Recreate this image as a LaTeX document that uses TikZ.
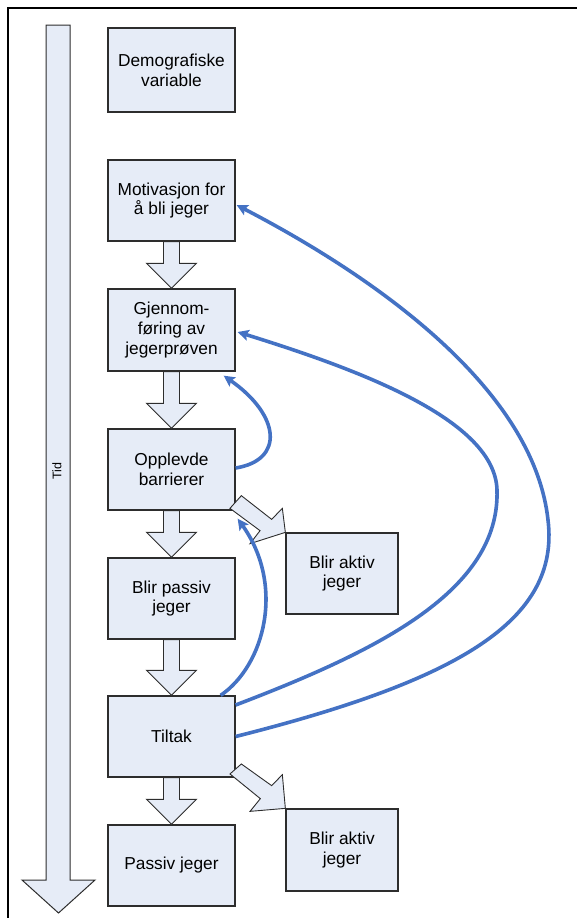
\documentclass[tikz,border=0pt]{standalone}
\usepackage{fontspec}
\setmainfont{Liberation Sans}
\usetikzlibrary{calc,arrows.meta}
\definecolor{boxfill}{RGB}{230,236,247}
\definecolor{boxline}{RGB}{45,45,45}
\definecolor{curveblue}{RGB}{68,114,196}
\newcommand\vblock[2]{%
  \draw[block] ($(#1.south)+(-8,0)$) -- ($(#2.north)+(-8,-25)$) -- ($(#2.north)+(-25,-25)$)
    -- (#2.north) -- ($(#2.north)+(25,-25)$) -- ($(#2.north)+(8,-25)$) -- ($(#1.south)+(8,0)$) -- cycle;}
\begin{document}
\begin{tikzpicture}[x=1pt,y=-1pt,
  box/.style={draw=boxline, fill=boxfill, line width=1.3pt, minimum width=127pt,
    minimum height=81pt, inner sep=0pt, align=center, font=\fontsize{17.3}{19.8}\selectfont},
  smallbox/.style={box, minimum width=112pt},
  block/.style={draw=boxline, fill=boxfill, line width=0.9pt, line join=miter},
  link/.style={draw=curveblue, line width=3.6pt, -{Stealth[length=11pt,width=11pt,inset=2pt]}}]
\useasboundingbox (0,0) rectangle (577,918);
% frame (top and left edges)
\draw[line width=2.6pt] (7.8,918) -- (7.8,7.8) -- (577,7.8);
% time arrow
\draw[block, line width=1pt] (46,25) -- (70,25) -- (70,880) -- (95,880) -- (58.5,913)
  -- (22,880) -- (46,880) -- cycle;
\node[rotate=90, font=\fontsize{12.5}{14}\selectfont] (tid) at (57,471) {Tid};
% boxes
\node[box, minimum height=84pt] (demo) at (171.5,70) {Demografiske\\variable};
\node[box] (motiv) at (171.5,200.5) {Motivasjon for\\å bli jeger};
\node[box, minimum height=82pt] (gjen) at (171.5,330) {Gjennom-\\føring av\\jegerprøven};
\node[box] (oppl) at (171.5,469.5) {Opplevde\\barrierer};
\node[box] (bpass) at (171.5,598.5) {Blir passiv\\jeger};
\node[box] (tiltak) at (171.5,736.5) {Tiltak};
\node[box] (pass) at (171.5,865.5) {Passiv jeger};
\node[smallbox] (aktivA) at (342,573.5) {Blir aktiv\\jeger};
\node[smallbox, minimum height=82pt] (aktivB) at (342,850) {Blir aktiv\\jeger};
% vertical block arrows
\vblock{motiv}{gjen}
\vblock{gjen}{oppl}
\vblock{oppl}{bpass}
\vblock{bpass}{tiltak}
\vblock{tiltak}{pass}
% diagonal block arrows
\draw[block] ($(oppl.south east)+(-5.7,-2.3)$) -- ($(oppl.south east)+(5.7,-15)$)
  -- ($(oppl.south east)+(36,8.7)$) -- ($(oppl.south east)+(46.7,-2.3)$)
  -- (aktivA.north west) -- ($(aktivA.north west)+(-35.3,11.3)$)
  -- ($(aktivA.north west)+(-25.3,-1.7)$) -- cycle;
\draw[block] ($(tiltak.south east)+(-5.7,-3.7)$) -- ($(tiltak.south east)+(5.7,-13.7)$)
  -- ($(tiltak.south east)+(36,8)$) -- ($(tiltak.south east)+(46.7,-3)$)
  -- (aktivB.north west) -- ($(aktivB.north west)+(-35.3,3)$)
  -- ($(aktivB.north west)+(-25,-9.7)$) -- cycle;
% blue feedback curves
\draw[link] (tiltak.east) .. controls (460,680) and (560,620) .. (548,520)
  .. controls (535,400) and (400,290) .. ($(motiv.east)+(1,4.5)$);
\draw[link] ($(tiltak.east)+(0,-31.5)$) .. controls (380,650) and (500,590) .. (497,490)
  .. controls (495,420) and (360,370) .. ($(gjen.east)+(2,2)$);
\draw[link] ($(tiltak.north east)+(-15,0)$) .. controls (265,665) and (285,585)
  .. ($(oppl.south east)+(2,8)$);
\draw[link] ($(oppl.east)+(0,-1.5)$) .. controls (285,460) and (280,415)
  .. ($(gjen.south east)+(-12,4)$);
\end{tikzpicture}
\end{document}
